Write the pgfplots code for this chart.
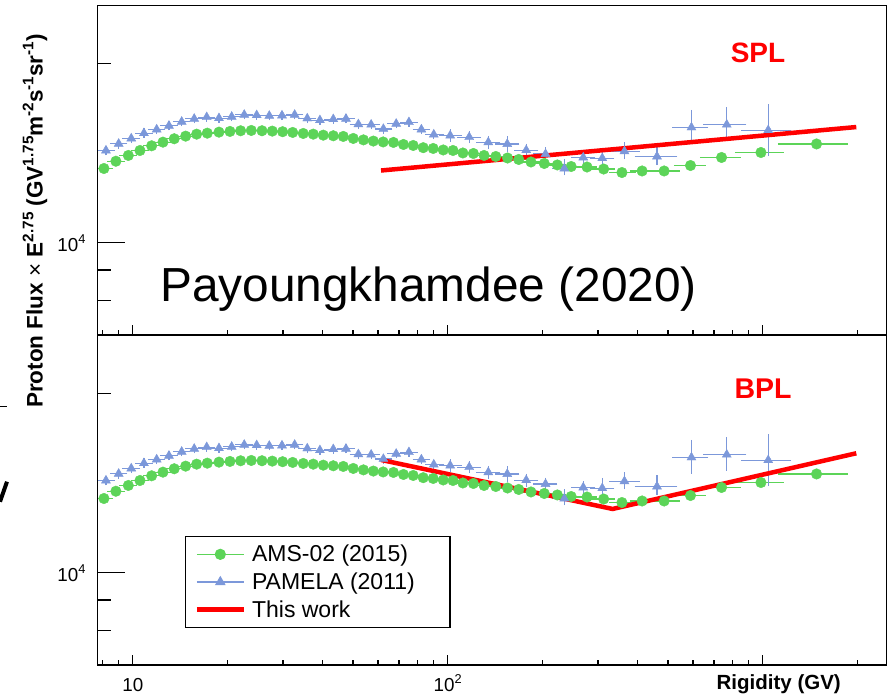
\documentclass[border=0pt]{standalone}
\usepackage{pgfplots}
\pgfplotsset{compat=1.18}
\usepackage{pgfplotstable}
\usepackage{graphicx}
\usepackage{fontspec}
\setmainfont{Liberation Sans}
\definecolor{amsgreen}{RGB}{92,212,88}
\definecolor{pamblue}{RGB}{124,152,218}
\definecolor{fitred}{RGB}{255,0,0}
\newcommand{\ticfont}{\fontsize{18.8}{20}\selectfont}
\newcommand{\legfont}{\fontsize{23}{25}\selectfont}
\newcommand{\sups}[1]{\raisebox{0.42em}{\scalebox{0.68}{#1}}}

% AMS-02 (2015): rigidity, flux x E^2.75, bin edges
\pgfplotstableread{
R F xlo xhi
8.10 13316 7.76 8.48
8.84 13696 8.48 9.26
9.68 14004 9.26 10.1
10.54 14276 10.1 11.0
11.48 14538 11.0 12.0
12.47 14743 12.0 13.0
13.54 14938 13.0 14.1
14.72 15090 14.1 15.3
15.95 15206 15.3 16.6
17.24 15265 16.6 18.0
18.78 15325 18.0 19.5
20.35 15367 19.5 21.1
22.0 15407 21.1 22.8
23.78 15425 22.8 24.7
25.72 15407 24.7 26.7
27.73 15385 26.7 28.8
29.91 15350 28.8 31.1
32.19 15307 31.1 33.5
34.77 15247 33.5 36.1
37.41 15206 36.1 38.9
40.25 15147 38.9 41.9
43.31 15112 41.9 45.1
46.59 15072 45.1 48.5
50.12 14955 48.5 52.2
54.0 14873 52.2 56.1
58.05 14805 56.1 60.3
62.36 14754 60.3 64.8
67.24 14727 64.8 69.7
72.34 14612 69.7 74.9
77.7 14555 74.9 80.5
83.6 14432 80.5 86.5
89.9 14388 86.5 93.0
96.76 14305 93.0 100
103.9 14276 100 108
111.7 14139 108 116
120.6 14112 116 125
130.4 14004 125 135
142.1 13949 135 147
154.8 13868 147 160
168.0 13789 160 175
183.8 13656 175 192
202.5 13577 192 211
222.8 13499 211 233
246.5 13419 233 259
276.8 13393 259 291
312.6 13289 291 332
357.3 13110 332 387
414.0 13189 387 448
486.4 13189 448 534
589.7 13470 534 646
740.1 13896 646 834
987 14165 834 1142
1482 14640 1142 1824
}\ams

% PAMELA (2011)
\pgfplotstableread{
R F xlo xhi ep em
8.22 14276 7.85 8.61 130 130
9.02 14654 8.61 9.44 130 130
9.89 14955 9.44 10.36 130 130
10.85 15265 10.36 11.37 130 130
11.91 15484 11.37 12.46 130 130
13.03 15707 12.46 13.65 130 130
14.30 15953 13.65 14.97 130 130
15.67 16138 14.97 16.40 130 130
17.17 16239 16.40 17.96 130 130
18.78 16175 17.96 19.67 130 130
20.61 16265 19.67 21.58 130 130
22.59 16389 21.58 23.64 130 130
24.74 16363 23.64 25.91 130 130
27.13 16325 25.91 28.42 130 130
29.77 16344 28.42 31.18 130 130
32.66 16389 31.18 34.20 130 130
35.81 16157 34.20 37.50 130 130
39.28 16050 37.50 41.24 130 130
43.31 16113 41.24 45.37 130 130
47.52 16138 45.37 49.72 130 130
52.03 15801 49.72 54.52 130 130
57.12 15776 54.52 59.74 130 130
62.47 15516 59.74 65.46 130 130
68.60 15830 65.46 71.87 130 130
75.30 15929 71.87 78.80 130 130
82.47 15484 78.80 86.29 130 130
90.29 15186 86.29 95.87 130 130
101.8 15127 95.87 109.1 220 220
117.0 15033 109.1 125.4 220 220
134.5 14737 125.4 144.2 220 220
154.5 14640 144.2 165.6 300 300
177.5 14293 165.6 190.5 220 220
204.4 14083 190.5 218.9 220 220
234.4 13316 218.9 251.2 340 229
269.3 13896 251.2 288.7 200 200
309.4 13858 288.7 332 418 412
363.9 14234 332 399 352 301
461.6 13949 399 526 466 330
593.9 15606 526 660 934 823
768.8 15776 660 872 935 821
1041 15442 872 1211 1471 1326
}\pam

% This work: single power law (top) and broken power law (bottom)
\pgfplotstableread{
R F
61.4 13213
1982 15631
}\spl
\pgfplotstableread{
R F
61.4 15458
333.8 12789
1982 15860
}\bpl

\begin{document}
\begin{tikzpicture}
\useasboundingbox (0pt,0pt) rectangle (895pt,698pt);

% ---------- top panel (SPL) ----------
\begin{axis}[at={(97.7pt,363pt)}, anchor=south west, scale only axis, width=789pt, height=329.5pt,
    xmode=log, ymode=log, xmin=7.74, xmax=2475, ymin=7000, ymax=25000,
    axis line style={line width=1.4pt}, tick style={black, line width=1.3pt},
    xmajorticks=false, xminorticks=false,
    ytick={10000}, minor ytick={8000,9000,20000}, ytick pos=left,
    major tick length=27pt, minor tick length=13pt,
    yticklabels={10\sups{4}},
    yticklabel style={anchor=base east, inner sep=0pt, xshift=-12pt, yshift=-9pt, font=\ticfont}]
\addplot[amsgreen, only marks, mark=*, mark size=5.3pt, mark options={fill=amsgreen, draw=amsgreen},
  error bars/x dir=both, error bars/x explicit,
  error bars/error bar style={line width=1.2pt, amsgreen},
  error bars/error mark options={amsgreen, mark size=3pt, line width=1.2pt}]
  table[x=R, y=F, x error plus expr=\thisrow{xhi}-\thisrow{R}, x error minus expr=\thisrow{R}-\thisrow{xlo}] {\ams};
\addplot[pamblue, only marks, mark=triangle*, mark size=5.2pt, mark options={fill=pamblue, draw=pamblue},
  error bars/x dir=both, error bars/x explicit, error bars/y dir=both, error bars/y explicit,
  error bars/error bar style={line width=1.2pt, pamblue},
  error bars/error mark options={pamblue, mark size=2.5pt, line width=1.2pt}]
  table[x=R, y=F, x error plus expr=\thisrow{xhi}-\thisrow{R}, x error minus expr=\thisrow{R}-\thisrow{xlo}, y error plus=ep, y error minus=em] {\pam};
\addplot[fitred, line width=4.5pt, no marks] table[x=R, y=F] {\spl};
\end{axis}
\begin{axis}[at={(97.7pt,363pt)}, anchor=south west, scale only axis, width=789pt, height=329.5pt,
    xmode=log, ymode=log, xmin=7.74, xmax=2475, ymin=7000, ymax=25000,
    axis line style={line width=1.4pt}, tick style={black, line width=1.3pt},
    ymajorticks=false, yminorticks=false,
    xtick={10,100,1000},
    minor xtick={8,9,20,30,40,50,60,70,80,90,200,300,400,500,600,700,800,900,2000},
    xtick pos=bottom, major tick length=10pt, minor tick length=5pt,
    xticklabels={,,}]
\end{axis}

% ---------- bottom panel (BPL) ----------
\begin{axis}[at={(97.7pt,33pt)}, anchor=south west, scale only axis, width=789pt, height=329.5pt,
    xmode=log, ymode=log, xmin=7.74, xmax=2475, ymin=7000, ymax=25000,
    axis line style={line width=1.4pt}, tick style={black, line width=1.3pt},
    xmajorticks=false, xminorticks=false,
    ytick={10000}, minor ytick={8000,9000,20000}, ytick pos=left,
    major tick length=27pt, minor tick length=13pt,
    yticklabels={10\sups{4}},
    yticklabel style={anchor=base east, inner sep=0pt, xshift=-12pt, yshift=-9pt, font=\ticfont}]
\addplot[amsgreen, only marks, mark=*, mark size=5.3pt, mark options={fill=amsgreen, draw=amsgreen},
  error bars/x dir=both, error bars/x explicit,
  error bars/error bar style={line width=1.2pt, amsgreen},
  error bars/error mark options={amsgreen, mark size=3pt, line width=1.2pt}]
  table[x=R, y=F, x error plus expr=\thisrow{xhi}-\thisrow{R}, x error minus expr=\thisrow{R}-\thisrow{xlo}] {\ams};
\addplot[pamblue, only marks, mark=triangle*, mark size=5.2pt, mark options={fill=pamblue, draw=pamblue},
  error bars/x dir=both, error bars/x explicit, error bars/y dir=both, error bars/y explicit,
  error bars/error bar style={line width=1.2pt, pamblue},
  error bars/error mark options={pamblue, mark size=2.5pt, line width=1.2pt}]
  table[x=R, y=F, x error plus expr=\thisrow{xhi}-\thisrow{R}, x error minus expr=\thisrow{R}-\thisrow{xlo}, y error plus=ep, y error minus=em] {\pam};
\addplot[fitred, line width=4.5pt, no marks] table[x=R, y=F] {\bpl};
\end{axis}
\begin{axis}[at={(97.7pt,33pt)}, anchor=south west, scale only axis, width=789pt, height=329.5pt,
    xmode=log, ymode=log, xmin=7.74, xmax=2475, ymin=7000, ymax=25000,
    axis line style={line width=1.4pt}, tick style={black, line width=1.3pt},
    ymajorticks=false, yminorticks=false,
    xtick={10,100,1000},
    minor xtick={8,9,20,30,40,50,60,70,80,90,200,300,400,500,600,700,800,900,2000},
    xtick pos=bottom, major tick length=10pt, minor tick length=5pt,
    xticklabels={10,10\sups{2},},
    xticklabel style={anchor=base, inner sep=0pt, yshift=-26.7pt, font=\ticfont},
    legend style={at={(0.1106,0.3909)}, anchor=north west, draw=black, line width=1.2pt,
      fill=white, font=\legfont, inner xsep=9pt, inner ysep=7.5pt, row sep=7.5pt, column sep=5pt,
      nodes={inner sep=1pt}},
    legend cell align=left,
    legend image code/.code={\draw[mark repeat=2, mark phase=2] plot coordinates {(0pt,0pt) (23.5pt,0pt) (47pt,0pt)};}]
\addlegendimage{amsgreen, line width=1.2pt, mark=*, mark size=5pt, mark options={fill=amsgreen}}
\addlegendentry{\makebox[188pt][l]{AMS-02 (2015)}}
\addlegendimage{pamblue, line width=1.2pt, mark=triangle*, mark size=5pt, mark options={fill=pamblue}}
\addlegendentry{PAMELA (2011)}
\addlegendimage{fitred, line width=4.5pt}
\addlegendentry{This work}
\end{axis}

% ---------- texts ----------
\node[anchor=base west, inner sep=0pt, font=\fontsize{47.8}{50}\selectfont] at (160pt,396pt) {Payoungkhamdee (2020)};
\node[inner sep=0pt, text=fitred, font=\fontsize{28}{30}\selectfont\bfseries] at (758pt,645pt) {SPL};
\node[inner sep=0pt, text=fitred, font=\fontsize{28.5}{30}\selectfont\bfseries] at (763pt,309.5pt) {BPL};
\node[anchor=base east, inner sep=0pt, font=\fontsize{20.5}{22}\selectfont\bfseries] at (841pt,8.5pt) {Rigidity (GV)};
\node[rotate=90, inner sep=0pt, font=\fontsize{22.5}{24}\selectfont\bfseries] at (35pt,477pt)
  {Proton Flux {\mdseries\texttimes} E\sups{2.75} (GV\sups{1.75}m\sups{-2}s\sups{-1}sr\sups{-1})};

% ---------- fragments at the left edge of the reference ----------
\draw[line width=1.5pt] (0pt,291.3pt) -- (6.7pt,291.3pt);
\draw[line width=4pt] (0pt,196.3pt) -- (7pt,216.3pt);
\end{tikzpicture}
\end{document}
